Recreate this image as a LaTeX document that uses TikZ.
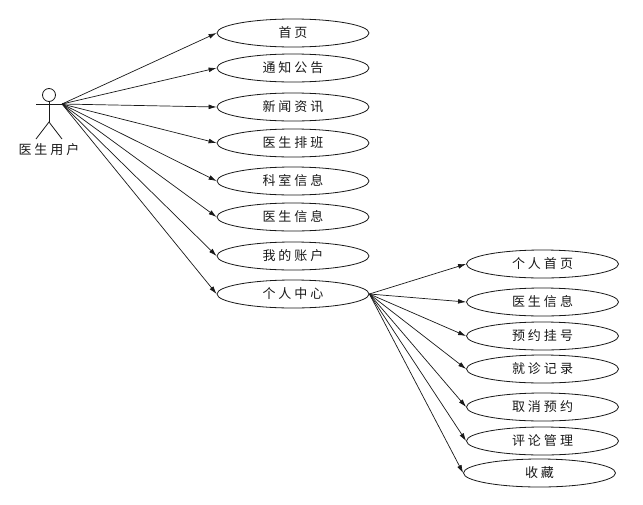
\documentclass[tikz,border=0pt]{standalone}
\usepackage{fontspec}
\setmainfont{Noto Sans CJK SC}
\usetikzlibrary{arrows.meta,shapes.geometric}
\newcommand\gp{\kern 3pt}
\tikzset{
  usecase/.style={draw=black!90,line width=0.8pt,ellipse,inner sep=0pt,minimum width=152pt,minimum height=28pt,font=\fontsize{13pt}{15pt}\selectfont,text=black!90},
  assoc/.style={draw=black!90,line width=0.7pt,-{Latex[length=8pt,width=4.8pt]},shorten >=0pt},
  stick/.style={draw=black!90,line width=0.8pt}
}
\begin{document}
\begin{tikzpicture}[x=1pt,y=-1pt]
\useasboundingbox[fill=white] (0,0) rectangle (643,504);
% actor
\node[draw=black!90,line width=0.8pt,circle,inner sep=0pt,minimum size=13pt] (head) at (49,95) {};
\coordinate (armL) at (36,104);
\coordinate (armR) at (62,104);
\coordinate (hip) at (49,122);
\coordinate (legL) at (36,139);
\coordinate (legR) at (62,139);
\draw[stick] (head.south) -- (hip);
\draw[stick] (armL) -- (armR);
\draw[stick] (legL) -- (hip) -- (legR);
\node[font=\fontsize{13pt}{15pt}\selectfont,text=black!90,inner sep=0pt] (actor) at (49,150) {医\gp 生\gp 用\gp 户};
% left use cases
\node[usecase] (a1) at (293,33) {首\gp 页};
\node[usecase] (a2) at (293,68) {通\gp 知\gp 公\gp 告};
\node[usecase] (a3) at (293,107) {新\gp 闻\gp 资\gp 讯};
\node[usecase] (a4) at (293,143) {医\gp 生\gp 排\gp 班};
\node[usecase] (a5) at (293,181) {科\gp 室\gp 信\gp 息};
\node[usecase] (a6) at (293,217) {医\gp 生\gp 信\gp 息};
\node[usecase] (a7) at (293,256) {我\gp 的\gp 账\gp 户};
\node[usecase] (a8) at (293,294) {个\gp 人\gp 中\gp 心};
% right use cases
\node[usecase] (b1) at (542.5,264) {个\gp 人\gp 首\gp 页};
\node[usecase] (b2) at (542.5,302) {医\gp 生\gp 信\gp 息};
\node[usecase] (b3) at (542.5,336) {预\gp 约\gp 挂\gp 号};
\node[usecase] (b4) at (542.5,369) {就\gp 诊\gp 记\gp 录};
\node[usecase] (b5) at (542.5,407) {取\gp 消\gp 预\gp 约};
\node[usecase] (b6) at (542.5,441) {评\gp 论\gp 管\gp 理};
\node[usecase] (b7) at (539.5,473) {收\gp 藏};
% connectors
\foreach \t in {a1,a2,a3,a4,a5,a6,a7,a8}
  \draw[assoc] (armR) -- (\t.west);
\foreach \t in {b1,b2,b3,b4,b5,b6,b7}
  \draw[assoc] (a8.east) -- (\t.west);
\end{tikzpicture}
\end{document}
